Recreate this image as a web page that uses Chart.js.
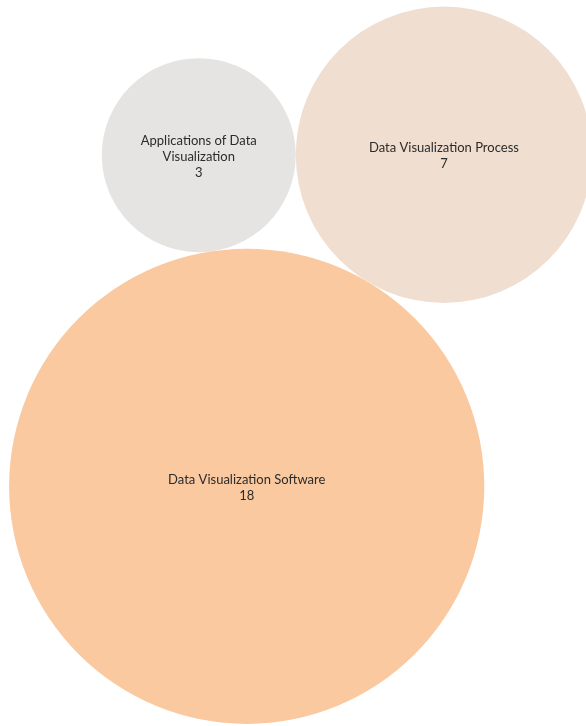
<!DOCTYPE html>
<html>
<head>
<meta charset="utf-8">
<title>Topics</title>
<script src="https://cdn.jsdelivr.net/npm/chart.js@4/dist/chart.umd.min.js"></script>
<style>
    body { margin: 0; background: #fff; }
    .wrapper { position: relative; width: 586px; height: 726px; }
</style>
</head>
<body>
<div class="wrapper">
    <canvas id="topicChart"></canvas>
</div>
<script>
const categories = ["Data Visualization Software", "Data Visualization Process", "Applications of Data Visualization"]
const counts = [18, 7, 3]
const colors = ["#FAC9A0", "#F0DED1", "#E5E4E3"]

const W = 586
const H = 726
// bubble radius grows with sqrt of the count (area ~ count)
const scaleK = 56
const radii = counts.map(c => scaleK * Math.sqrt(c))

// pack: biggest bubble first, second touches it, third touches both
const anchor = { x: 246.7, y: 486.3 }
const turn = -59.25 * Math.PI / 180
function packBubbles(r){
    const pts = [{ x: anchor.x, y: anchor.y }]
    const ab = r[0] + r[1]
    pts.push({ x: anchor.x + ab * Math.cos(turn), y: anchor.y + ab * Math.sin(turn) })
    const ac = r[0] + r[2]
    const bc = r[1] + r[2]
    const alpha = Math.acos((ab * ab + ac * ac - bc * bc) / (2 * ab * ac))
    pts.push({ x: anchor.x + ac * Math.cos(turn - alpha), y: anchor.y + ac * Math.sin(turn - alpha) })
    return pts
}
const spots = packBubbles(radii)

const points = counts.map((c, i) => ({ x: spots[i].x, y: spots[i].y, r: radii[i] }))

function wrapText(ctx, text, maxWidth){
    const words = text.split(" ")
    const lines = []
    let line = ""
    words.forEach(w => {
        const test = line ? line + " " + w : w
        if (ctx.measureText(test).width > maxWidth && line) {
            lines.push(line)
            line = w
        } else {
            line = test
        }
    })
    if (line) lines.push(line)
    return lines
}

const bubbleLabels = {
    id: "bubbleLabels",
    afterDatasetsDraw(chart){
        const ctx = chart.ctx
        const meta = chart.getDatasetMeta(0)
        ctx.save()
        ctx.font = "13px Lato, 'Open Sans', sans-serif"
        ctx.fillStyle = "#2b2b2b"
        ctx.textAlign = "center"
        ctx.textBaseline = "middle"
        const lh = 16
        meta.data.forEach((pt, i) => {
            const lines = wrapText(ctx, categories[i], radii[i] * 1.7)
            lines.push(String(counts[i]))
            const top = pt.y + 1.5 - (lines.length - 1) * lh / 2
            lines.forEach((l, j) => ctx.fillText(l, pt.x, top + j * lh))
        })
        ctx.restore()
    }
}

const ctx = document.getElementById("topicChart").getContext("2d")
const topicChart = new Chart(ctx, {
    type: "bubble",
    data: {
        labels: categories,
        datasets: [{
            data: points,
            backgroundColor: colors,
            borderWidth: 0,
            hoverBorderWidth: 0,
            hoverRadius: 0,
            clip: false
        }]
    },
    options: {
        responsive: true,
        maintainAspectRatio: false,
        animation: false,
        events: [],
        layout: { padding: 0, autoPadding: false },
        plugins: {
            legend: { display: false },
            tooltip: { enabled: false }
        },
        scales: {
            x: { type: "linear", display: false, min: 0, max: W },
            y: { type: "linear", display: false, min: 0, max: H, reverse: true }
        }
    },
    plugins: [bubbleLabels]
})
</script>
</body>
</html>
